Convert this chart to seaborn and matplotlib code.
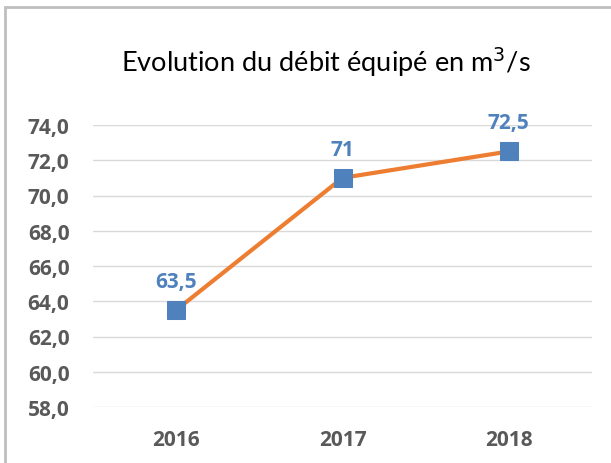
import matplotlib
matplotlib.use("Agg")
import matplotlib.pyplot as plt
import seaborn as sns
import pandas as pd
from matplotlib.patches import Rectangle

years = ["2016", "2017", "2018"]
debit = [63.5, 71.0, 72.5]
labels = ["63,5", "71", "72,5"]
yticks = [58, 60, 62, 64, 66, 68, 70, 72, 74]

sns.set_theme(style="white")
plt.rcParams['font.family'] = ['Open Sans', 'DejaVu Sans']

df = pd.DataFrame({"annee": years, "debit": debit})

fig = plt.figure(figsize=(6.11, 4.64), dpi=100)
ax = fig.add_axes([93 / 611, 1 - 408 / 464, 499 / 611, 282 / 464])

sns.lineplot(data=df, x="annee", y="debit", ax=ax, color="#ED7D31", linewidth=3,
             marker="s", markersize=13, markerfacecolor="#4F81BD",
             markeredgecolor="#4F81BD", zorder=3)

for i, (v, lab) in enumerate(zip(debit, labels)):
    ax.annotate(lab, (i, v), xytext=(0, 13), textcoords="offset points",
                ha="center", va="bottom", color="#4F81BD",
                fontsize=15, fontweight="bold")

ax.set_xlim(-0.5, 2.5)
ax.set_ylim(58, 74)
ax.set_yticks(yticks)
ax.set_yticklabels([f"{t:.1f}".replace(".", ",") for t in yticks])
ax.yaxis.grid(True, color="#D9D9D9", linewidth=1)
ax.xaxis.grid(False)
for s in ax.spines.values():
    s.set_visible(False)
ax.tick_params(axis="both", length=0, labelsize=15, labelcolor="#595959")
ax.tick_params(axis="y", pad=17)
ax.tick_params(axis="x", pad=16)
for t in ax.get_xticklabels() + ax.get_yticklabels():
    t.set_fontweight("bold")
ax.set_xlabel("")
ax.set_ylabel("")

fig.text(326 / 611, 1 - 62 / 464, r"Evolution du débit équipé en m$^{3}$/s",
         ha="center", va="center", fontsize=19.5, color="#000000",
         family=["Lato", "DejaVu Sans"])

# chart frame (only top and left edges visible in the crop)
fig.patches.append(Rectangle((5 / 611, -0.1), 1.2, 1 - 8 / 464 + 0.1,
                             transform=fig.transFigure, fill=False,
                             edgecolor="#BFBFBF", linewidth=2))

fig.savefig("out.png", dpi=100)
